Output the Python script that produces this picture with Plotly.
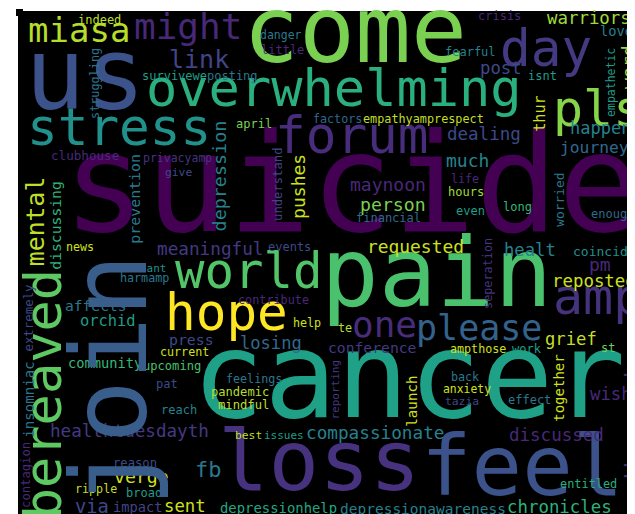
import plotly.graph_objects as go

# word cloud: horizontal words (word, font size ~ frequency, centre x, centre y, colour)
h_words = ["suicide", "cancer", "loss", "feel", "come", "us", "pain", "overwhelming", "stress", "forum",
           "world", "hope", "please", "one", "amp", "day", "pls", "might", "miasa", "link",
           "indeed", "survivewe", "posting", "clubhouse", "privacyamp", "give", "danger", "little", "april", "factors",
           "empathyamprespect", "crisis", "warriors", "loved", "fearful", "post", "isnt", "dealing", "happens", "journey",
           "much", "life", "hours", "even", "long", "enough", "healt", "coincided", "pm", "reposted",
           "grief", "ampthose", "work", "st", "back", "anxiety", "tazia", "effect", "wish", "discussed",
           "entitled", "chronicles", "depressionawareness", "depressionhelp", "compassionate", "best", "issues", "feelings", "pandemic", "mindful",
           "conference", "losing", "help", "te", "contribute", "events", "requested", "maynoon", "person", "financial",
           "meaningful", "news", "cant", "harmamp", "press", "affects", "orchid", "current", "community", "upcoming",
           "pat", "reach", "healthtuesdayth", "reason", "verge", "fb", "ripple", "broad", "via", "impact",
           "sent"]
h_size = [137, 120, 84, 84, 93, 100, 96, 52, 51, 51,
          49, 51, 35, 36, 50, 51, 50, 36, 34, 25,
          12, 12, 12, 12.6, 11.5, 11.3, 11.5, 12, 12, 11.7,
          11.8, 12, 17.4, 13.7, 12, 17.3, 12, 17.5, 17, 16.3,
          18, 11.7, 12, 12, 12, 12, 17.2, 13, 18, 17.4,
          17.2, 11.7, 12, 12, 11.7, 11.4, 11.3, 12, 17.3, 17.5,
          11.9, 17.4, 14.5, 13.9, 17.7, 11.3, 11, 11.7, 12.1, 12.2,
          14.7, 17.1, 11.7, 11.8, 11.8, 12, 17.9, 18, 18.2, 12,
          17.7, 11.7, 11, 11.7, 14.8, 14.6, 15.4, 11.7, 13.7, 12.1,
          12, 12, 17.6, 12.2, 18.2, 22, 11.7, 12, 18.8, 13.7,
          17.3]
h_x = [343, 400, 311, 514, 347, 77, 428, 326, 111, 344,
       241, 218, 471, 376, 590, 538, 590, 180, 71, 191,
       91, 166, 224, 76.5, 169, 170, 272.5, 274, 245.5, 329,
       415, 491, 581, 612, 462.5, 493, 534, 476, 598, 586.5,
       459, 456.5, 457.5, 462.5, 509, 604, 522, 600, 592, 586,
       563, 469.5, 519, 600, 456.5, 458.5, 453.5, 521, 603, 548.5,
       580, 551.5, 415, 270, 366.5, 240, 276, 245.5, 231.5, 235,
       363.5, 263, 298.5, 336.5, 265, 281, 407.5, 380, 385, 380,
       202.5, 71.5, 145.5, 136, 183.5, 88, 100, 176, 96.5, 163.5,
       159, 170.5, 121.5, 126.5, 133.5, 200, 87.5, 135.5, 84, 129,
       177]
h_y = [188, 378, 461, 466, 30, 75, 274, 85, 124, 132,
       268, 309, 323, 320, 293, 45, 105, 22, 25, 54,
       13, 69, 69, 149, 151, 166, 28, 43, 117, 112,
       112, 9, 12, 24, 45, 62, 69, 128, 122, 141,
       154, 172, 185, 204, 200, 207, 244, 245, 258, 275,
       333, 342, 342, 341, 370, 382, 395, 393, 388, 429,
       477, 501, 502, 501, 427, 429, 428, 372, 385, 398,
       341, 337, 316, 321, 293, 240, 240, 178, 198, 211,
       243, 240, 261, 271, 333, 299, 314, 345, 356, 359,
       377, 403, 425, 456, 470, 463, 482, 486, 500, 500,
       500]
h_color = ["#440154", "#1fa187", "#46327e", "#3b528b", "#7ad151", "#3b528b", "#4ac16d", "#2ab07f", "#21918c", "#472d7b",
           "#52c569", "#fde725", "#33638d", "#472d7b", "#46337e", "#443a83", "#86d549", "#482878", "#b5de2b", "#414487",
           "#bddf26", "#1f9e89", "#2a788e", "#482878", "#46337e", "#3e4989", "#2a788e", "#482878", "#7ad151", "#31688e",
           "#c2df23", "#482878", "#a0da39", "#26828e", "#26828e", "#3e4989", "#1f9e89", "#3e4989", "#26828e", "#31688e",
           "#25858e", "#482878", "#a0da39", "#1f9e89", "#35b779", "#31688e", "#26828e", "#21918c", "#482878", "#d0e11c",
           "#c2df23", "#d0e11c", "#1f9e89", "#6ece58", "#2a788e", "#d0e11c", "#3e4989", "#2a788e", "#482878", "#482878",
           "#29af7f", "#2db27d", "#26828e", "#22a884", "#26828e", "#c2df23", "#1f9e89", "#2a788e", "#b5de2b", "#c2df23",
           "#443983", "#31688e", "#d0e11c", "#b5de2b", "#482878", "#3e4989", "#d0e11c", "#482878", "#7ad151", "#31688e",
           "#443983", "#d0e11c", "#21918c", "#2a788e", "#3e4989", "#2a788e", "#1f9e89", "#d0e11c", "#35b779", "#4ac16d",
           "#3e4989", "#26828e", "#443983", "#3e4989", "#d0e11c", "#2a788e", "#c2df23", "#1f9e89", "#3e4989", "#414487",
           "#d0e11c"]

# vertical words (read bottom to top)
v_words = ["join", "bereaved", "mental", "depression", "prevention", "discussing", "struggling", "extremely", "insomniac", "contagion",
           "understand", "pushes", "seperation", "worried", "optionsplease", "empathetic", "word", "thur", "launch", "reporting",
           "together", "discussion"]
v_size = [105, 52, 24.8, 18.4, 14.9, 14.7, 11.8, 12.4, 14.1, 12.2,
          12.2, 18, 11.8, 12.9, 12.2, 11.5, 18.2, 15.2, 14.2, 11,
          14, 25]
v_x = [111, 40, 29.4, 213.6, 128, 48, 88, 20.7, 22, 19,
       271, 292, 481, 552.5, 633, 604, 621.7, 532.7, 405, 328,
       552, 628]
v_y = [372, 386, 213, 167.5, 191, 218, 75, 310, 392, 467,
       176, 178.5, 265, 191.5, 190, 74, 59, 105.5, 393, 381.5,
       380, 404]
v_color = ["#3a5e8c", "#5ec962", "#bddf26", "#26828e", "#2a788e", "#2eb37c", "#2c728e", "#3e4989", "#2a788e", "#482878",
           "#414487", "#cde11d", "#46337e", "#2a788e", "#1f9e89", "#1f9e89", "#a2da37", "#d0e11c", "#d0e11c", "#443983",
           "#d0e11c", "#482878"]

assert len(h_words) == len(h_size) == len(h_x) == len(h_y) == len(h_color)
assert len(v_words) == len(v_size) == len(v_x) == len(v_y) == len(v_color)

FONT = "DejaVu Sans Mono"
SHIFT = 0.09  # glyph box vs. baseline correction for the font

fig = go.Figure()
fig.add_trace(go.Scatter(x=[0, 635], y=[0, 514], mode="markers",
                         marker=dict(opacity=0), hoverinfo="skip", showlegend=False))

# black canvas of the word cloud image
fig.add_shape(type="rect", x0=10, y0=3, x1=635, y1=510, xref="x", yref="y",
              fillcolor="black", line=dict(width=0), layer="below")
fig.add_shape(type="rect", x0=8, y0=1, x1=15, y1=8, xref="x", yref="y",
              fillcolor="black", line=dict(width=0), layer="below")

for w, s, x, y, c in zip(h_words, h_size, h_x, h_y, h_color):
    fig.add_annotation(x=x, y=y - SHIFT * s, xref="x", yref="y", text=w, showarrow=False,
                       font=dict(family=FONT, size=s, color=c), borderpad=0)

for w, s, x, y, c in zip(v_words, v_size, v_x, v_y, v_color):
    fig.add_annotation(x=x - SHIFT * s, y=y, xref="x", yref="y", text=w, showarrow=False, textangle=-90,
                       font=dict(family=FONT, size=s, color=c), borderpad=0)

fig.update_layout(
    width=635, height=514,
    margin=dict(l=0, r=0, t=0, b=0),
    paper_bgcolor="white",
    plot_bgcolor="white",
    xaxis=dict(range=[0, 635], visible=False, fixedrange=True),
    yaxis=dict(range=[514, 0], visible=False, fixedrange=True),
)

fig.write_html("out.html")
